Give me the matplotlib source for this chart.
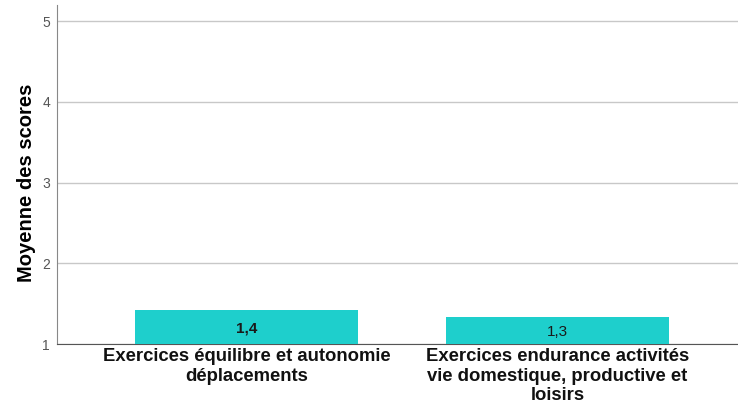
import numpy as np
from matplotlib import pyplot as plt

plt.rcParams['font.family'] = ['Liberation Sans', 'DejaVu Sans']

# data
categories = ['Exercices équilibre et autonomie\ndéplacements',
              'Exercices endurance activités\nvie domestique, productive et\nloisirs']
means = [1.42, 1.33]
value_labels = ['1,4', '1,3']
yticks = [1, 2, 3, 4, 5]

fig = plt.figure(figsize=(7.38, 4.08), dpi=100)
ax = fig.add_axes([57/738, 1-344/408, 1-57/738, (344-5)/408])

x = np.arange(len(categories))
ax.bar(x, np.array(means) - 1, bottom=1, width=0.717, color='#1ecfcc', zorder=3)

weights = ['bold', 'normal']
for xi, m, lab, w in zip(x, means, value_labels, weights):
    ax.text(xi, 1 + (m - 1)/2 - 0.02, lab, ha='center', va='center',
            fontsize=11, color='#1a1a1a', weight=w, zorder=4)

ax.set_ylim(1, 5.2)
ax.set_xlim(-0.609, 1.58)
ax.set_yticks(yticks)
ax.set_yticklabels([str(t) for t in yticks], color='#555555', fontsize=10)
ax.yaxis.grid(True, color='#c8c8c8', lw=1, zorder=0)
ax.tick_params(axis='y', length=0, pad=5)
ax.tick_params(axis='x', length=0, pad=3)
ax.set_xticks(x)
ax.set_xticklabels(categories, fontsize=13.3, weight='bold', color='#111111', linespacing=1.2)

for s in ['top', 'right']:
    ax.spines[s].set_visible(False)
ax.spines['left'].set_color('#888888')
ax.spines['bottom'].set_color('#555555')

ax.set_ylabel('Moyenne des scores', fontsize=14.5, weight='bold')
ax.yaxis.set_label_coords(-0.031, 0.476)

fig.savefig('out.png', dpi=100)
